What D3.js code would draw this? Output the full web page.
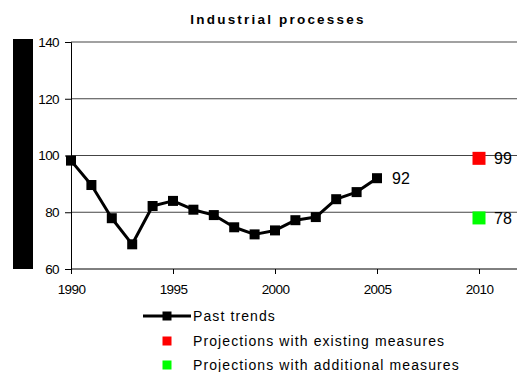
<!DOCTYPE html>
<html>
<head>
<meta charset="utf-8">
<script src="https://cdn.jsdelivr.net/npm/d3@7"></script>
<style>
  html, body { margin: 0; padding: 0; background: #fff; }
  svg { display: block; font-family: "Liberation Sans", Arial, sans-serif; }
</style>
</head>
<body>
<svg id="chart" width="517" height="372"></svg>
<script>
// Emission index, industrial processes (base = 100)
const years = [1990, 1991, 1992, 1993, 1994, 1995, 1996, 1997, 1998, 1999, 2000, 2001, 2002, 2003, 2004, 2005];
const pastTrends = [98.2, 89.6, 77.9, 68.7, 82.2, 84.0, 80.9, 79.0, 74.7, 72.2, 73.6, 77.2, 78.3, 84.6, 87.1, 92];
const projectionYear = 2010;
const projExisting = 99;
const projAdditional = 78;
const xTicks = [1990, 1995, 2000, 2005, 2010];
const yTicks = [60, 80, 100, 120, 140];
const legendLabels = ["Past trends", "Projections with existing measures", "Projections with additional measures"];
const projColors = ["#ff0000", "#00ff00"];

const svg = d3.select("#chart");
const W = 517;

const x = d3.scaleLinear().domain([1990, 2010]).range([71, 479]);
const y = d3.scaleLinear().domain([60, 140]).range([269, 42]);

// Title
svg.append("text")
  .attr("x", 278).attr("y", 24)
  .attr("text-anchor", "middle")
  .attr("font-size", 13.5).attr("font-weight", "bold")
  .attr("letter-spacing", 2.2)
  .text("Industrial processes");

// Blocked-out axis title band
svg.append("rect")
  .attr("x", 13).attr("y", 39).attr("width", 20).attr("height", 230)
  .attr("fill", "#000");

// Horizontal gridlines
svg.append("g")
  .selectAll("line")
  .data(yTicks.filter(d => d > 60))
  .join("line")
  .attr("x1", x(1990)).attr("x2", W)
  .attr("y1", d => y(d)).attr("y2", d => y(d))
  .attr("stroke", "#444").attr("stroke-width", 1.2);

// Y axis
const yAxis = svg.append("g")
  .attr("transform", `translate(${x(1990)},0)`)
  .call(d3.axisLeft(y).tickValues(yTicks).tickSize(6).tickPadding(6).tickFormat(d3.format("d")));
yAxis.select(".domain").attr("stroke", "#000");
yAxis.selectAll(".tick line").attr("stroke", "#000");
yAxis.selectAll("text")
  .attr("font-size", 13.5).attr("fill", "#000")
  .attr("font-family", "Liberation Sans, Arial, sans-serif")
  .attr("letter-spacing", -0.6);

// X axis
const xAxis = svg.append("g")
  .attr("transform", `translate(0,${y(60)})`)
  .call(d3.axisBottom(x).tickValues(xTicks).tickSize(5).tickPadding(10).tickFormat(d3.format("d")));
xAxis.select(".domain").remove();
xAxis.append("line")
  .attr("x1", x(1990)).attr("x2", W).attr("y1", 0).attr("y2", 0)
  .attr("stroke", "#000");
xAxis.selectAll(".tick line").attr("stroke", "#000");
xAxis.selectAll("text")
  .attr("font-size", 13.5).attr("fill", "#000")
  .attr("font-family", "Liberation Sans, Arial, sans-serif")
  .attr("letter-spacing", -0.6);

// Past trend line with square markers
const series = years.map((yr, i) => ({ yr, v: pastTrends[i] }));
svg.append("path")
  .datum(series)
  .attr("fill", "none").attr("stroke", "#000").attr("stroke-width", 3)
  .attr("stroke-linejoin", "round")
  .attr("d", d3.line().x(d => x(d.yr)).y(d => y(d.v)));

const m = 10;
svg.append("g")
  .selectAll("rect")
  .data(series)
  .join("rect")
  .attr("x", d => x(d.yr) - m / 2).attr("y", d => y(d.v) - m / 2)
  .attr("width", m).attr("height", m).attr("fill", "#000");

// Label for last observed value
const last = series[series.length - 1];
svg.append("text")
  .attr("x", x(last.yr) + 15).attr("y", y(last.v))
  .attr("dy", "0.36em").attr("font-size", 16)
  .text(d3.format("d")(last.v));

// Projection markers for 2010
const proj = [projExisting, projAdditional];
const pm = 13;
svg.append("g")
  .selectAll("rect")
  .data(proj)
  .join("rect")
  .attr("x", x(projectionYear) - pm / 2).attr("y", d => y(d) - pm / 2)
  .attr("width", pm).attr("height", pm)
  .attr("fill", (d, i) => projColors[i]);
svg.append("g")
  .selectAll("text")
  .data(proj)
  .join("text")
  .attr("x", x(projectionYear) + 15).attr("y", d => y(d))
  .attr("dy", "0.36em").attr("font-size", 16)
  .text(d => d);

// Legend
const lg = svg.append("g").attr("font-size", 14).attr("letter-spacing", 1.1);
const rows = [316, 341, 365];
lg.append("line")
  .attr("x1", 143).attr("x2", 191).attr("y1", rows[0]).attr("y2", rows[0])
  .attr("stroke", "#000").attr("stroke-width", 3);
lg.append("rect")
  .attr("x", 167 - 4.5).attr("y", rows[0] - 4.5).attr("width", 9).attr("height", 9).attr("fill", "#000");
projColors.forEach((c, i) => {
  lg.append("rect")
    .attr("x", 167 - 4.5).attr("y", rows[i + 1] - 4.5).attr("width", 9).attr("height", 9).attr("fill", c);
});
lg.selectAll("text.lab")
  .data(legendLabels)
  .join("text")
  .attr("class", "lab")
  .attr("x", 193).attr("y", (d, i) => rows[i])
  .attr("dy", "0.36em")
  .text(d => d);
</script>
</body>
</html>
